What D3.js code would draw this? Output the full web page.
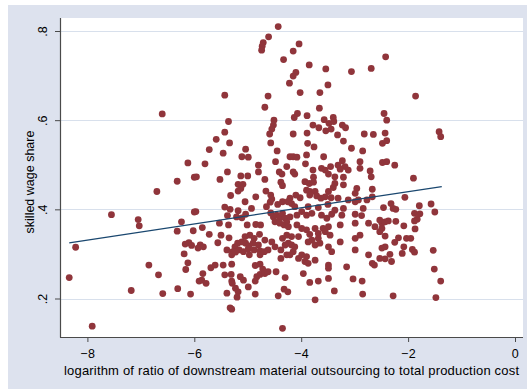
<!DOCTYPE html>
<html>
<head>
<meta charset="utf-8">
<script src="https://cdn.jsdelivr.net/npm/d3@7"></script>
<style>
  html, body { margin: 0; padding: 0; background: #ffffff; }
  svg { display: block; font-family: "Liberation Sans", Arial, Helvetica, sans-serif; }
</style>
</head>
<body>
<svg id="chart" width="527" height="389"></svg>
<script>
// Axis ticks
const xTicks = [-8, -6, -4, -2, 0];
const yTicks = [0.2, 0.4, 0.6, 0.8];
const yTickLabels = [".2", ".4", ".6", ".8"];

// Linear fit across the observed range of x
const fitX = [-8.34, -1.37];
const fitY = [0.325, 0.451];

// Observations: [log ratio of downstream outsourcing to production cost, skilled wage share]
const obs = [
  [-6.60,.614],[-6.12,.504],[-6.32,.463],[-6.00,.472],[-6.70,.440],[-7.55,.388],[-7.05,.377],[-7.03,.363],
  [-6.24,.372],[-6.32,.351],[-6.00,.394],[-6.02,.352],[-8.22,.315],[-8.34,.247],[-6.17,.322],[-6.10,.325],
  [-6.05,.319],[-6.19,.300],[-6.12,.280],[-6.16,.265],[-6.85,.275],[-6.67,.253],[-7.18,.218],[-6.59,.211],
  [-6.31,.222],[-6.07,.210],[-7.91,.138],
  [-4.43,.810],[-4.61,.787],[-4.71,.774],[-4.73,.766],[-4.74,.757],[-4.33,.736],[-4.22,.683],[-5.43,.656],
  [-4.62,.654],[-4.68,.629],[-4.51,.600],[-4.52,.589],[-4.55,.580],[-4.59,.569],[-5.36,.597],[-5.43,.573],
  [-5.59,.557],[-5.34,.549],[-5.72,.534],[-5.46,.526],[-5.04,.535],[-5.11,.518],[-4.99,.517],[-4.57,.549],
  [-4.45,.531],[-5.80,.502],[-5.38,.484],[-4.80,.499],[-4.80,.484],[-4.48,.507],[-4.41,.484],[-4.36,.479],
  [-4.27,.496],[-4.21,.518],[-5.96,.473],[-5.52,.467],[-5.13,.475],[-5.00,.475],[-4.68,.467],
  [-5.18,.456],[-5.09,.456],[-5.13,.447],[-5.18,.441],[-5.32,.431],[-5.05,.417],[-4.85,.428],[-4.66,.441],
  [-4.57,.432],[-4.55,.423],[-4.58,.416],[-4.65,.406],[-4.38,.461],[-4.35,.453],[-4.35,.417],[-4.44,.411],
  [-5.43,.405],[-5.33,.400],[-5.18,.397],[-5.04,.389],[-4.93,.402],[-5.38,.386],[-5.11,.381],[-5.21,.383],
  [-5.97,.395],[-5.53,.369],[-5.36,.365],[-5.01,.365],[-4.85,.366],[-4.76,.365],[-4.57,.392],[-4.52,.383],
  [-4.46,.387],[-4.40,.381],[-4.35,.391],[-4.30,.380],[-4.49,.372],[-4.40,.369],[-4.32,.365],[-4.27,.372],
  [-5.85,.359],[-5.72,.344],[-5.50,.342],[-5.35,.336],[-5.05,.339],[-4.96,.342],[-4.88,.335],[-4.78,.344],
  [-5.11,.327],[-5.04,.324],[-4.98,.318],[-4.90,.324],[-4.80,.320],[-5.19,.324],[-5.24,.316],[-5.56,.325],
  [-5.89,.320],[-5.93,.313],[-5.83,.316],[-5.39,.309],[-5.28,.305],[-5.16,.309],[-5.08,.305],[-4.99,.311],
  [-4.88,.309],[-4.77,.307],[-4.68,.331],[-4.55,.327],[-4.62,.309],[-4.49,.316],[-4.35,.335],[-4.30,.320],
  [-4.38,.309],[-4.27,.298],[-4.38,.290],[-5.30,.298],[-5.23,.304],[-4.97,.298],[-4.77,.298],[-4.69,.305],
  [-5.69,.269],[-5.61,.275],[-5.46,.275],[-5.30,.277],[-4.86,.274],[-4.77,.277],[-4.72,.266],[-4.77,.254],
  [-4.68,.256],[-4.62,.260],[-4.47,.260],[-5.84,.256],[-5.86,.241],[-5.78,.234],[-5.91,.239],[-5.43,.253],
  [-5.31,.254],[-5.30,.239],[-5.14,.249],[-5.08,.241],[-4.83,.249],[-4.86,.239],[-5.29,.234],[-5.23,.223],
  [-5.18,.215],[-4.99,.226],[-4.30,.247],[-5.39,.212],[-5.20,.203],[-4.86,.210],[-4.43,.206],[-4.32,.221],
  [-4.25,.215],[-5.33,.179],[-5.30,.176],[-4.35,.133],
  [-4.04,.771],[-4.15,.755],[-3.85,.724],[-3.54,.715],[-3.06,.709],[-2.69,.716],[-2.42,.742],[-4.10,.707],
  [-4.15,.699],[-3.50,.679],[-4.02,.662],[-3.65,.662],[-3.66,.627],[-4.07,.615],[-4.13,.606],[-3.89,.610],
  [-3.57,.601],[-3.40,.606],[-3.48,.593],[-3.39,.597],[-3.78,.589],[-3.67,.583],[-3.54,.576],[-3.44,.580],
  [-3.23,.589],[-3.17,.583],[-4.15,.569],[-3.89,.571],[-3.32,.567],[-2.82,.569],[-2.65,.568],[-2.45,.615],
  [-2.43,.571],[-3.21,.553],[-3.88,.548],[-3.76,.540],[-3.06,.537],[-2.85,.531],[-2.48,.548],[-4.15,.518],
  [-4.08,.517],[-3.90,.522],[-3.58,.518],[-4.15,.484],[-4.12,.479],[-3.92,.502],[-3.78,.488],[-3.62,.492],
  [-3.55,.488],[-3.45,.496],[-3.31,.499],[-3.23,.509],[-3.18,.496],[-3.12,.488],[-3.27,.490],[-2.90,.507],
  [-2.90,.492],[-2.71,.486],[-2.69,.473],[-2.48,.505],[-3.77,.472],[-3.49,.479],[-3.37,.473],[-3.21,.472],
  [-3.93,.462],[-3.85,.458],[-3.77,.461],[-3.90,.443],[-3.84,.440],[-3.74,.440],[-3.40,.449],[-3.49,.440],
  [-3.37,.458],[-3.21,.455],[-2.96,.447],[-2.67,.445],[-2.99,.436],[-4.02,.426],[-4.10,.432],[-3.84,.432],
  [-3.71,.430],[-3.63,.425],[-3.55,.428],[-3.44,.426],[-3.31,.425],[-3.12,.421],[-2.93,.421],[-2.77,.421],
  [-2.67,.428],[-4.21,.425],[-4.25,.417],[-4.18,.413],[-4.12,.406],[-3.87,.406],[-3.68,.404],[-3.50,.411],
  [-3.37,.398],[-3.21,.402],[-2.99,.417],[-2.84,.402],[-2.46,.404],[-4.21,.383],[-4.08,.387],[-3.99,.395],
  [-3.90,.387],[-3.80,.391],[-3.62,.387],[-3.52,.380],[-3.43,.389],[-3.24,.387],[-2.99,.389],[-2.87,.386],
  [-2.74,.369],[-2.99,.369],[-3.27,.365],[-3.49,.361],[-3.59,.357],[-3.74,.357],[-3.90,.354],[-3.99,.357],
  [-4.08,.365],[-4.24,.361],[-2.49,.369],[-2.62,.361],[-4.27,.342],[-4.18,.339],[-4.05,.339],[-3.84,.344],
  [-3.68,.346],[-3.55,.350],[-3.46,.342],[-3.68,.335],[-3.80,.331],[-3.87,.327],[-3.74,.320],[-3.65,.324],
  [-3.49,.316],[-3.27,.327],[-2.99,.335],[-2.90,.342],[-4.24,.324],[-4.18,.320],[-4.12,.316],[-3.43,.305],
  [-4.15,.305],[-4.21,.298],[-3.99,.298],[-3.90,.294],[-3.93,.283],[-3.87,.279],[-4.05,.290],[-3.74,.286],
  [-3.49,.275],[-3.49,.268],[-3.15,.271],[-2.99,.309],[-2.74,.298],[-2.49,.313],[-2.43,.316],[-2.67,.279],
  [-2.63,.275],[-3.96,.256],[-3.84,.236],[-3.68,.239],[-3.49,.245],[-3.03,.244],[-2.86,.239],[-3.38,.217],
  [-2.85,.210],[-3.74,.197],
  [-1.86,.654],[-2.40,.600],[-1.42,.574],[-1.39,.563],[-2.40,.554],[-2.40,.507],[-2.25,.499],[-1.90,.470],
  [-2.06,.427],[-2.32,.413],[-2.28,.402],[-2.23,.400],[-1.79,.408],[-1.57,.412],[-1.50,.394],[-1.88,.391],
  [-1.78,.390],[-1.83,.378],[-1.88,.374],[-2.53,.376],[-2.43,.372],[-2.37,.374],[-2.23,.373],[-2.08,.363],
  [-1.87,.356],[-2.49,.357],[-2.53,.350],[-2.43,.340],[-2.18,.336],[-2.03,.335],[-1.95,.335],[-2.25,.326],
  [-1.92,.310],[-1.88,.304],[-2.08,.316],[-2.11,.301],[-2.34,.299],[-2.53,.290],[-2.43,.289],[-2.31,.283],
  [-1.53,.308],[-1.51,.266],[-1.39,.239],[-2.28,.206],[-1.48,.202]
];

const xTitle = "logarithm of ratio of downstream material outsourcing to total production cost";
const yTitle = "skilled wage share";

const svg = d3.select("#chart");
const W = 527, H = 389;

// Graph region and plot region
const outer = { x: 8, y: 5, w: W - 8, h: H - 5 };
const plot = { left: 60, top: 18, right: 523, bottom: 337 };

svg.append("rect")
  .attr("x", outer.x).attr("y", outer.y)
  .attr("width", outer.w).attr("height", outer.h)
  .attr("fill", "#dde2ee");

svg.append("rect")
  .attr("x", plot.left).attr("y", plot.top)
  .attr("width", plot.right - plot.left).attr("height", plot.bottom - plot.top)
  .attr("fill", "#ffffff");

const x = d3.scaleLinear().domain([-8, 0]).range([87.4, 515]);
const y = d3.scaleLinear().domain([0.2, 0.8]).range([298.5, 31]);

// Horizontal gridlines
svg.append("g")
  .selectAll("line")
  .data(yTicks)
  .join("line")
  .attr("x1", plot.left + 1).attr("x2", plot.right)
  .attr("y1", d => Math.round(y(d)) + 0.5).attr("y2", d => Math.round(y(d)) + 0.5)
  .attr("stroke", "#d8e0ec").attr("stroke-width", 1.2);

// Scatter points
svg.append("g")
  .selectAll("circle")
  .data(obs)
  .join("circle")
  .attr("cx", d => x(d[0]))
  .attr("cy", d => y(d[1]))
  .attr("r", 3.4)
  .attr("fill", "#90353b");

// Fitted line
svg.append("path")
  .datum(d3.zip(fitX, fitY))
  .attr("d", d3.line().x(d => x(d[0])).y(d => y(d[1])))
  .attr("fill", "none")
  .attr("stroke", "#1a476f")
  .attr("stroke-width", 1.3);

const axisColor = "#4a4a4a";

// Left axis
const gy = svg.append("g")
  .attr("transform", `translate(${plot.left},0)`)
  .call(d3.axisLeft(y).tickValues(yTicks).tickSize(5)
    .tickFormat((d, i) => yTickLabels[i]));
gy.select(".domain").remove();
gy.selectAll(".tick line").attr("stroke", axisColor);
gy.selectAll(".tick text")
  .attr("transform", "rotate(-90)")
  .attr("x", 0).attr("y", -13).attr("dy", 0)
  .attr("text-anchor", "middle")
  .attr("fill", "#000")
  .style("font-size", "12.5px");

// Bottom axis
const gx = svg.append("g")
  .attr("transform", `translate(0,${plot.bottom})`)
  .call(d3.axisBottom(x).tickValues(xTicks).tickSize(5).tickFormat(d3.format("d")));
gx.select(".domain").remove();
gx.selectAll(".tick line").attr("stroke", axisColor);
gx.selectAll(".tick text")
  .attr("y", 21).attr("dy", 0)
  .attr("fill", "#000")
  .style("font-size", "12.5px")
  .style("letter-spacing", "0.5px");

// Axis lines spanning the plot region
svg.append("line")
  .attr("x1", plot.left + 0.5).attr("x2", plot.left + 0.5)
  .attr("y1", plot.top).attr("y2", plot.bottom + 0.5)
  .attr("stroke", axisColor).attr("stroke-width", 1.2);
svg.append("line")
  .attr("x1", plot.left).attr("x2", plot.right)
  .attr("y1", plot.bottom + 0.5).attr("y2", plot.bottom + 0.5)
  .attr("stroke", axisColor).attr("stroke-width", 1.2);

// Axis titles
svg.append("text")
  .attr("x", (plot.left + plot.right) / 2)
  .attr("y", 375)
  .attr("text-anchor", "middle")
  .attr("textLength", 455)
  .attr("lengthAdjust", "spacing")
  .style("font-size", "13px")
  .text(xTitle);

svg.append("text")
  .attr("transform", `translate(34,182) rotate(-90)`)
  .attr("text-anchor", "middle")
  .style("font-size", "12.5px")
  .text(yTitle);
</script>
</body>
</html>
